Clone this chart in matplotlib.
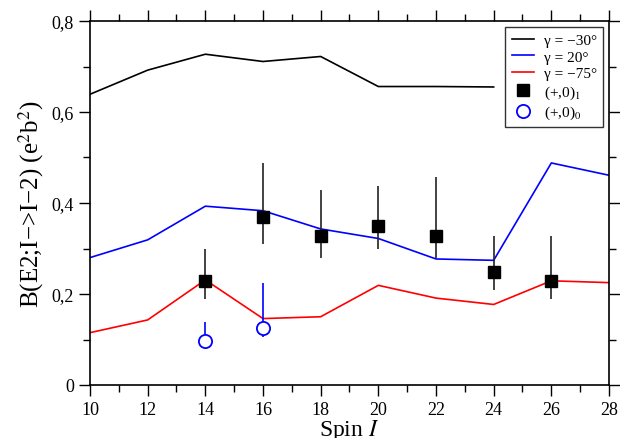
import matplotlib.pyplot as plt
import numpy as np
from matplotlib.ticker import MultipleLocator, FuncFormatter
from matplotlib.lines import Line2D

plt.rcParams['font.family'] = ['Liberation Serif', 'DejaVu Serif']
plt.rcParams['mathtext.fontset'] = 'stix'

spin = [10, 12, 14, 16, 18, 20, 22, 24, 26, 28]
gamma_m30 = [0.639, 0.692, 0.727, 0.711, 0.722, 0.656, 0.656, 0.655]
gamma_20 = [0.280, 0.319, 0.393, 0.383, 0.343, 0.322, 0.277, 0.274, 0.488, 0.461]
gamma_m75 = [0.115, 0.143, 0.231, 0.146, 0.150, 0.219, 0.191, 0.177, 0.229, 0.225]

exp1_spin = [14, 16, 18, 20, 22, 24, 26]
exp1_val = [0.229, 0.370, 0.328, 0.349, 0.328, 0.248, 0.229]
exp1_lo = [0.189, 0.310, 0.279, 0.299, 0.280, 0.209, 0.189]
exp1_hi = [0.299, 0.488, 0.428, 0.438, 0.457, 0.328, 0.328]

exp0_spin = [14, 16]
exp0_val = [0.096, 0.126]
exp0_lo = [0.090, 0.105]
exp0_hi = [0.138, 0.224]

fig = plt.figure(figsize=(6.2, 4.39), dpi=100)
ax = fig.add_axes([90/620, 1-386/439, (609-90)/620, (386-22)/439])

ax.plot(spin[:len(gamma_m30)], gamma_m30, color='black', lw=1.2)
ax.plot(spin, gamma_20, color='blue', lw=1.2)
ax.plot(spin, gamma_m75, color='red', lw=1.2)

v1 = np.array(exp1_val)
ax.errorbar(exp1_spin, v1, yerr=[v1 - np.array(exp1_lo), np.array(exp1_hi) - v1],
            fmt='s', color='black', ecolor='#222222', ms=9, elinewidth=1.2, capsize=0, zorder=5)
v0 = np.array(exp0_val)
ax.errorbar(exp0_spin, v0, yerr=[v0 - np.array(exp0_lo), np.array(exp0_hi) - v0],
            fmt='o', mfc='white', mec='blue', ecolor='blue', ms=9.5, mew=1.3,
            elinewidth=1.2, capsize=0, zorder=4)

ax.set_xlim(10, 28)
ax.set_ylim(0, 0.8)
ax.xaxis.set_major_locator(MultipleLocator(2))
ax.xaxis.set_minor_locator(MultipleLocator(1))
ax.yaxis.set_major_locator(MultipleLocator(0.2))
ax.yaxis.set_minor_locator(MultipleLocator(0.1))
ax.yaxis.set_major_formatter(FuncFormatter(lambda v, p: '0' if abs(v) < 1e-9 else f'{v:.1f}'.replace('.', ',')))
ax.tick_params(which='both', direction='out', top=True, right=True, labelsize=13)
ax.tick_params(which='major', length=8, width=1)
ax.tick_params(which='minor', length=5, width=1)
for s in ax.spines.values():
    s.set_linewidth(1.2)

ax.set_xlabel('Spin $\\mathit{I}$', fontsize=17, labelpad=-1)
ax.set_ylabel('B(E2;I\u2212>I\u22122) (e$^{2}$b$^{2}$)', fontsize=18, labelpad=4)

handles = [
    Line2D([], [], color='black', lw=1.2),
    Line2D([], [], color='blue', lw=1.2),
    Line2D([], [], color='red', lw=1.2),
    Line2D([], [], marker='s', color='black', ls='none', ms=9),
    Line2D([], [], marker='o', mfc='white', mec='blue', ls='none', ms=9.5, mew=1.3),
]
labels = ['\u03b3 = \u221230\u00b0', '\u03b3 = 20\u00b0', '\u03b3 = \u221275\u00b0',
          '(+,0)$_1$', '(+,0)$_0$']
leg = ax.legend(handles, labels, loc='upper right', fontsize=11, frameon=True,
                fancybox=False, edgecolor='black', handlelength=1.5,
                handletextpad=0.6, borderaxespad=0.4, labelspacing=0.2,
                borderpad=0.4)
leg.get_frame().set_linewidth(1)

fig.savefig('out.png', dpi=100)
